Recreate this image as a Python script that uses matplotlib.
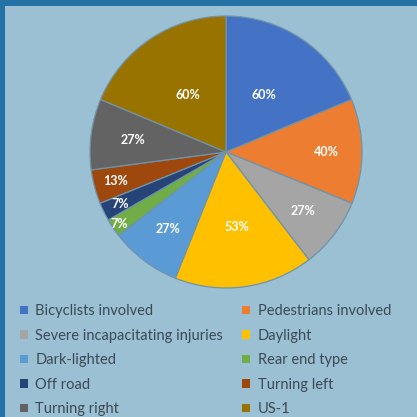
import matplotlib
matplotlib.use("Agg")
import matplotlib.pyplot as plt
import matplotlib.patches as mpatches
import numpy as np

categories = ["Bicyclists involved", "Pedestrians involved", "Severe incapacitating injuries",
              "Daylight", "Dark-lighted", "Rear end type", "Off road", "Turning left",
              "Turning right", "US-1"]
values = [60, 40, 27, 53, 27, 7, 7, 13, 27, 60]
colors = ["#4472C4", "#ED7D31", "#A5A5A5", "#FFC000", "#5B9BD5",
          "#70AD47", "#264478", "#9E480E", "#636363", "#997300"]
# radial position of each percentage label (fraction of radius)
label_r = [0.50, 0.74, 0.71, 0.56, 0.71, 0.95, 0.87, 0.84, 0.69, 0.50]

W = H = 417
fig = plt.figure(figsize=(W / 100, H / 100), dpi=100, facecolor="#2371a5")
fig.patches.append(mpatches.Rectangle((5 / W, 0), 1, 1 - 6 / H, transform=fig.transFigure,
                                      facecolor="#9bbfd3", edgecolor="none", zorder=-5))

cx, cy, r = 226, 152, 136
ax = fig.add_axes([(cx - r) / W, 1 - (cy + r) / H, 2 * r / W, 2 * r / H])
ax.set_facecolor("none")
wedges, _ = ax.pie(values, colors=colors, startangle=90, counterclock=False,
                   wedgeprops=dict(edgecolor="#6f93ab", linewidth=0.9))
ax.set_xlim(-1, 1)
ax.set_ylim(-1, 1)
ax.set_aspect("equal")
ax.axis("off")

for w, v, d in zip(wedges, values, label_r):
    ang = np.deg2rad((w.theta1 + w.theta2) / 2)
    ax.text(d * np.cos(ang), d * np.sin(ang), f"{v}%", ha="center", va="center",
            color="white", fontsize=9, fontweight="bold", family="Lato")

# legend fills column-first, so reorder to read row by row
handles = [mpatches.Patch(facecolor=c, edgecolor="none") for c in colors]
order = list(range(0, 10, 2)) + list(range(1, 10, 2))
fig.legend([handles[i] for i in order], [categories[i] for i in order], ncol=2,
           loc="upper left", bbox_to_anchor=(7 / W, 1 - 291 / H),
           frameon=False, handlelength=0.55, handleheight=0.55, handletextpad=0.5,
           columnspacing=1.3, labelspacing=0.72, prop=dict(family="Lato", size=10.5),
           labelcolor="#3b4a55")

fig.savefig("out.png", dpi=100, facecolor=fig.get_facecolor())
